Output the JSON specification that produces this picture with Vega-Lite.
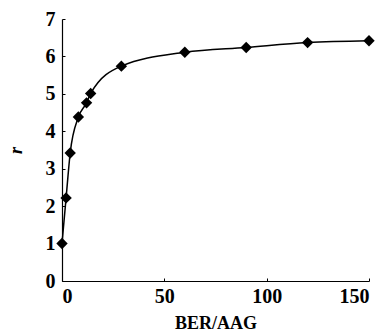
{
  "$schema": "https://vega.github.io/schema/vega-lite/v6.json",
  "autosize": "none",
  "padding": {"left": 62, "top": 19, "right": 16, "bottom": 55},
  "width": 307,
  "height": 262,
  "background": "white",
  "config": {
    "view": {"stroke": null},
    "axis": {
      "grid": false,
      "domainColor": "black",
      "domainWidth": 1.2,
      "tickColor": "black",
      "tickSize": -3,
      "labelOverlap": false,
      "labelFont": "Liberation Serif",
      "labelFontWeight": "bold",
      "labelFontSize": 20,
      "labelColor": "black",
      "titleFont": "Liberation Serif",
      "titleFontWeight": "bold",
      "titleFontSize": 18,
      "titleColor": "black"
    }
  },
  "data": {
    "values": [
      {"x": 0, "r": 1.0},
      {"x": 2, "r": 2.22},
      {"x": 4, "r": 3.42},
      {"x": 8, "r": 4.38},
      {"x": 12, "r": 4.76},
      {"x": 14, "r": 5.01},
      {"x": 29, "r": 5.74},
      {"x": 60, "r": 6.11},
      {"x": 90, "r": 6.24},
      {"x": 120, "r": 6.37},
      {"x": 150, "r": 6.42}
    ]
  },
  "encoding": {
    "x": {
      "field": "x", "type": "quantitative",
      "scale": {"domain": [0, 150], "nice": false},
      "axis": {"values": [0, 50, 100, 150], "title": "BER/AAG", "labelPadding": 8, "titlePadding": 8}
    },
    "y": {
      "field": "r", "type": "quantitative",
      "scale": {"domain": [0, 7], "nice": false},
      "axis": {"values": [0, 1, 2, 3, 4, 5, 6, 7], "title": "r", "titleFontStyle": "italic", "labelPadding": 10, "titlePadding": 20}
    }
  },
  "layer": [
    {
      "mark": {"type": "line", "color": "black", "strokeWidth": 1.5, "interpolate": "monotone"}
    },
    {
      "mark": {"type": "point", "shape": "diamond", "filled": true, "color": "black", "opacity": 1, "size": 130}
    }
  ]
}
